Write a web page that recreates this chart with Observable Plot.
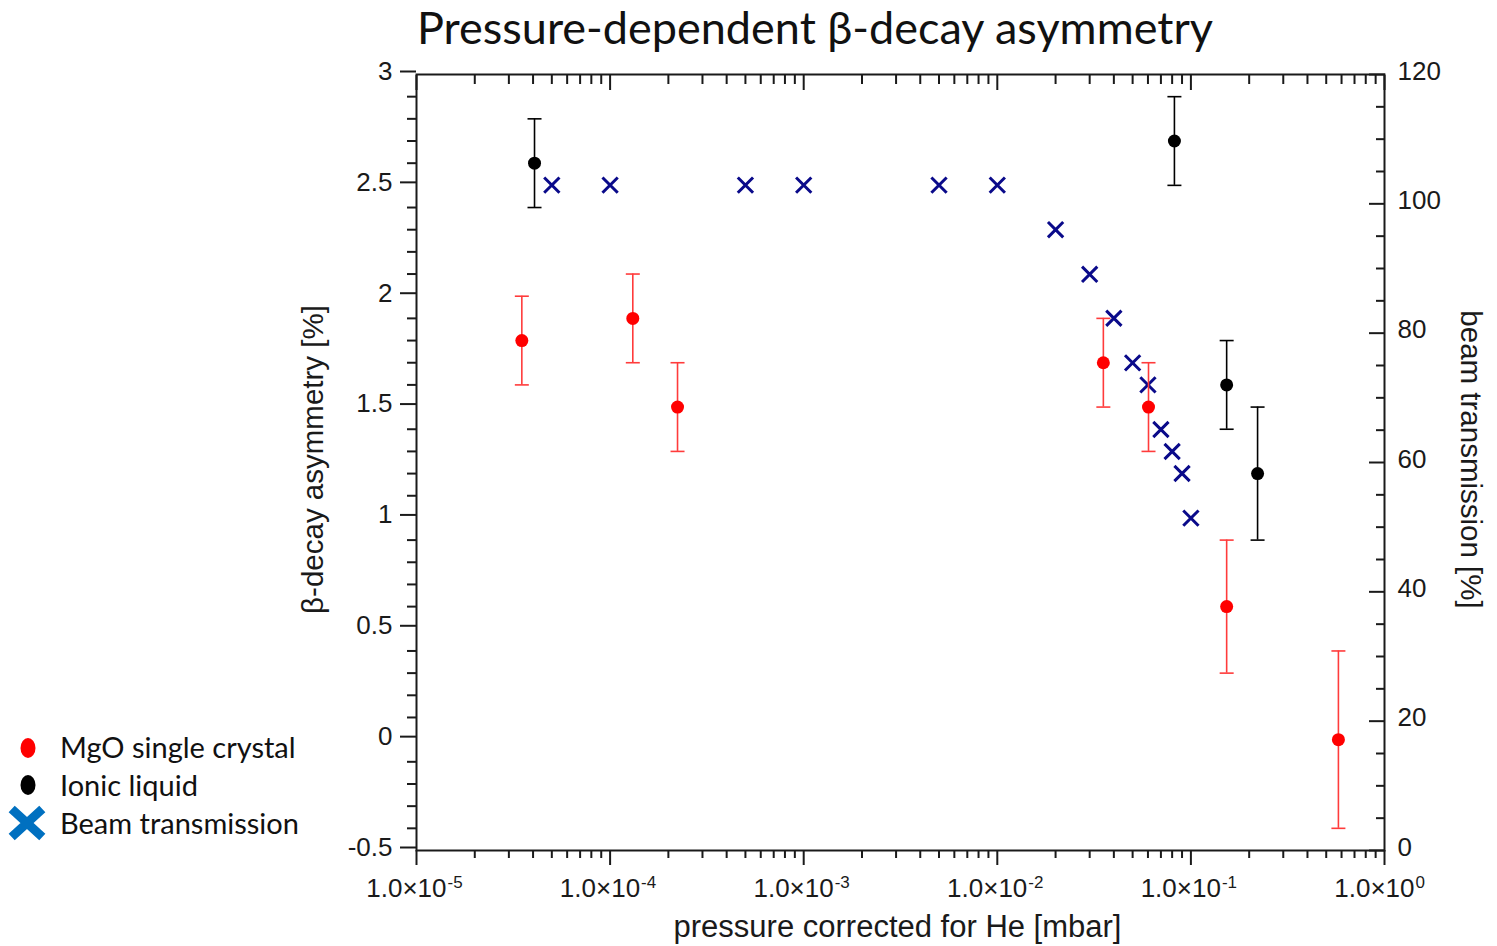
<!DOCTYPE html>
<html><head><meta charset="utf-8">
<script src="https://cdn.jsdelivr.net/npm/d3@7"></script>
<script src="https://cdn.jsdelivr.net/npm/@observablehq/plot@0.6"></script>
<style>
body{margin:0;background:#fff;}
#wrap{position:relative;width:1497px;height:946px;overflow:hidden;background:#fff;}
#chart{position:absolute;left:0;top:0;}
#title{position:absolute;left:0;width:1630px;top:-2px;text-align:center;font-family:Lato,"Open Sans",sans-serif;font-size:45px;line-height:58px;color:#111;white-space:nowrap;}
#legend{position:absolute;left:8px;top:728px;font-family:Lato,"Open Sans",sans-serif;font-size:29px;color:#111;}
#legend .row{position:relative;height:38px;line-height:38px;padding-left:52px;white-space:nowrap;}
#legend svg{position:absolute;left:0;top:0;}
</style></head>
<body><div id="wrap"><div id="chart"></div><div id="title"></div><div id="legend"></div></div>
<script>
// ---- data ----
const mgoPressure = [3.5e-5, 1.31e-4, 2.23e-4, 0.0353, 0.0604, 0.153, 0.578];
const mgoAsym     = [1.8, 1.9, 1.5, 1.7, 1.5, 0.6, 0.0];
const mgoErr      = [0.2, 0.2, 0.2, 0.2, 0.2, 0.3, 0.4];

const ionicPressure = [4.07e-5, 0.0822, 0.153, 0.221];
const ionicAsym     = [2.6, 2.7, 1.6, 1.2];
const ionicErr      = [0.2, 0.2, 0.2, 0.3];

const beamPressure     = [5e-5, 1e-4, 5e-4, 1e-3, 5e-3, 1e-2, 2e-2, 3e-2, 4e-2, 5e-2, 6e-2, 7e-2, 8e-2, 9e-2, 0.1];
const beamTransmission = [102.9, 102.9, 102.9, 102.9, 102.9, 102.9, 96.0, 89.1, 82.3, 75.4, 72.0, 65.1, 61.7, 58.3, 51.4];

const leftTicks  = [-0.5, 0, 0.5, 1, 1.5, 2, 2.5, 3];
const rightTicks = [0, 20, 40, 60, 80, 100, 120];
const decades    = [1e-5, 1e-4, 1e-3, 1e-2, 1e-1, 1e0];
const decadeExps = ["-5", "-4", "-3", "-2", "-1", "0"];

const legendItems = ["MgO single crystal", "Ionic liquid", "Beam transmission"];
const titleText = "Pressure-dependent β-decay asymmetry";
const xLabel = "pressure corrected for He [mbar]";
const yLabel = "β-decay asymmetry [%]";
const y2Label = "beam transmission [%]";

// ---- derived ----
const yDomain = [-0.5, 3];
const y2Domain = [0, 120];
const toLeft = t => yDomain[0] + (t - y2Domain[0]) / (y2Domain[1] - y2Domain[0]) * (yDomain[1] - yDomain[0]);
const toRight = v => y2Domain[0] + (v - yDomain[0]) / (yDomain[1] - yDomain[0]) * (y2Domain[1] - y2Domain[0]);

const mgo = mgoPressure.map((p, i) => ({p, a: mgoAsym[i], e: mgoErr[i]}));
const ionic = ionicPressure.map((p, i) => ({p, a: ionicAsym[i], e: ionicErr[i]}));
const beam = beamPressure.map((p, i) => ({p, t: beamTransmission[i]}));

const minorX = [];
for (let k = -5; k < 0; k++) for (let m = 2; m <= 9; m++) minorX.push(m * Math.pow(10, k));
const minorY = d3.range(-5, 31).map(v => v / 10).filter(v => !leftTicks.some(t => Math.abs(t - v) < 1e-9));
const minorY2 = d3.range(0, 121, 5).filter(v => v % 20 !== 0).map(toLeft);
const decadeData = decades.map((d, i) => ({d, e: decadeExps[i]}));

const cap = {draw(ctx, size) { const r = Math.sqrt(size / Math.PI); ctx.moveTo(-r, 0); ctx.lineTo(r, 0); }};

const RED = "#ff0000", RED_BAR = "#ff3b3b", BLACK = "#000000", NAVY = "#0a0a8a", AX = "#1a1a1a";
const TF = "Liberation Sans, Arial, sans-serif";

const chart = Plot.plot({
  width: 1497, height: 946,
  marginLeft: 416, marginRight: 113, marginTop: 74, marginBottom: 96,
  style: {fontFamily: TF, fontSize: "26px", color: AX, background: "transparent"},
  x: {type: "log", domain: [1e-5, 1], axis: null},
  y: {domain: yDomain, axis: null},
  marks: [
    Plot.frame({stroke: AX, strokeWidth: 2}),
    // left axis
    Plot.axisY({anchor: "left", ticks: leftTicks, tickSize: 16, tickPadding: 8, tickFormat: d => String(d), stroke: AX, strokeWidth: 2, fill: AX, fontSize: 26, dy: -3, label: null}),
    Plot.axisY({anchor: "left", ticks: minorY, tickSize: 9, text: null, stroke: AX, strokeWidth: 2, label: null}),
    // right axis (ticks pointing inward)
    Plot.axisY({anchor: "right", ticks: rightTicks.map(toLeft), tickSize: 16, text: null, dx: -16, stroke: AX, strokeWidth: 2, label: null}),
    Plot.axisY({anchor: "right", ticks: minorY2, tickSize: 9, text: null, dx: -9, stroke: AX, strokeWidth: 2, label: null}),
    Plot.axisY({anchor: "right", ticks: rightTicks.map(toLeft), tickSize: 0, tickPadding: 13, tickFormat: d => String(Math.round(toRight(d))), fill: AX, fontSize: 26, dy: -3, label: null}),
    // bottom axis
    Plot.axisX({anchor: "bottom", ticks: decades, tickSize: 15, text: null, stroke: AX, strokeWidth: 2, label: null}),
    Plot.axisX({anchor: "bottom", ticks: minorX, tickSize: 8, text: null, stroke: AX, strokeWidth: 2, label: null}),
    // top axis (ticks pointing inward)
    Plot.axisX({anchor: "top", ticks: decades, tickSize: 15, text: null, dy: 15, stroke: AX, strokeWidth: 2, label: null}),
    Plot.axisX({anchor: "top", ticks: minorX, tickSize: 9, text: null, dy: 9, stroke: AX, strokeWidth: 2, label: null}),
    // bottom tick labels with superscript exponent
    Plot.text(decadeData, {x: "d", text: () => "1.0×10", frameAnchor: "bottom", textAnchor: "end", lineAnchor: "middle", dx: 30, dy: 38, fill: AX, fontSize: 26}),
    Plot.text(decadeData, {x: "d", text: "e", frameAnchor: "bottom", textAnchor: "start", lineAnchor: "middle", dx: 31, dy: 32, fill: AX, fontSize: 17}),
    // axis titles
    Plot.text([xLabel], {text: d => d, frameAnchor: "bottom", textAnchor: "middle", lineAnchor: "middle", dx: -3, dy: 77, fill: AX, fontSize: 31}),
    Plot.text([yLabel], {text: d => d, frameAnchor: "left", textAnchor: "middle", lineAnchor: "middle", dx: -103, dy: -3, rotate: -90, fill: AX, fontSize: 29.5}),
    Plot.text([y2Label], {text: d => d, frameAnchor: "right", textAnchor: "middle", lineAnchor: "middle", dx: 86, dy: -3, rotate: 90, fill: AX, fontSize: 29.5}),
    // beam transmission
    Plot.dot(beam, {x: "p", y: d => toLeft(d.t), symbol: "times", r: 7, stroke: NAVY, strokeWidth: 3}),
    // MgO
    Plot.ruleX(mgo, {x: "p", y1: d => d.a - d.e, y2: d => d.a + d.e, stroke: RED_BAR, strokeWidth: 1.6}),
    Plot.dot(mgo, {x: "p", y: d => d.a - d.e, symbol: cap, r: 7, stroke: RED_BAR, strokeWidth: 1.6}),
    Plot.dot(mgo, {x: "p", y: d => d.a + d.e, symbol: cap, r: 7, stroke: RED_BAR, strokeWidth: 1.6}),
    Plot.dot(mgo, {x: "p", y: "a", r: 6.5, fill: RED}),
    // Ionic liquid
    Plot.ruleX(ionic, {x: "p", y1: d => d.a - d.e, y2: d => d.a + d.e, stroke: BLACK, strokeWidth: 1.6}),
    Plot.dot(ionic, {x: "p", y: d => d.a - d.e, symbol: cap, r: 7, stroke: BLACK, strokeWidth: 1.6}),
    Plot.dot(ionic, {x: "p", y: d => d.a + d.e, symbol: cap, r: 7, stroke: BLACK, strokeWidth: 1.6}),
    Plot.dot(ionic, {x: "p", y: "a", r: 6.5, fill: BLACK})
  ]
});
document.getElementById("chart").appendChild(chart);
document.getElementById("title").textContent = titleText;

// legend
const legendIcons = [
  '<svg width="40" height="38"><ellipse cx="20" cy="20" rx="7.5" ry="10" fill="#ff0000"/></svg>',
  '<svg width="40" height="38"><ellipse cx="20" cy="19" rx="7.5" ry="10" fill="#000"/></svg>',
  '<svg width="40" height="38"><path d="M7,8 L31,30 M31,8 L7,30" stroke="#0070c0" stroke-width="9" stroke-linecap="square"/></svg>'
];
const lg = document.getElementById("legend");
legendItems.forEach((t, i) => {
  const row = document.createElement("div");
  row.className = "row";
  row.innerHTML = legendIcons[i];
  row.appendChild(document.createTextNode(t));
  lg.appendChild(row);
});
</script>
</body></html>
